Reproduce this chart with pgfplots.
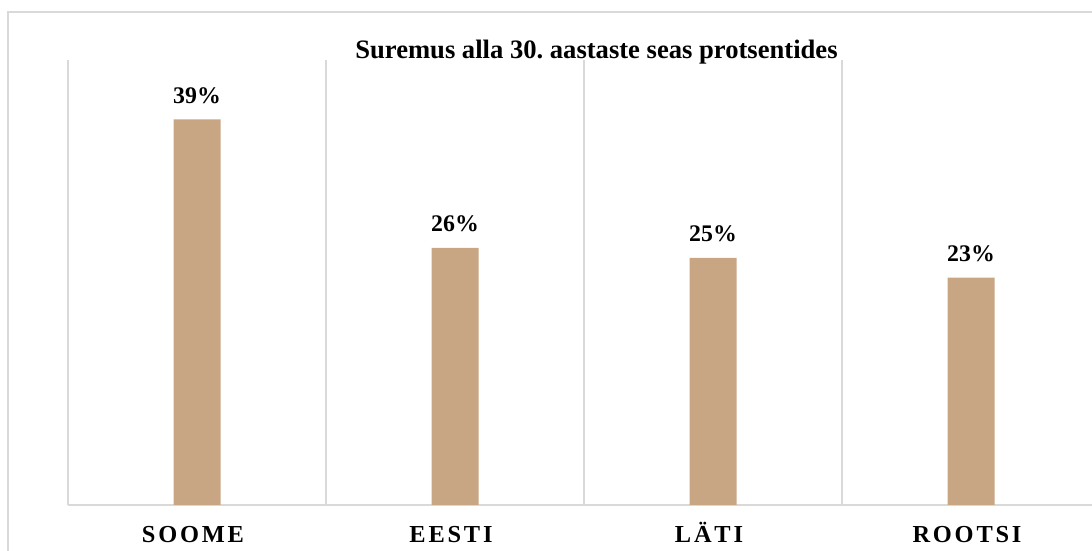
\documentclass[border=0pt]{standalone}
\usepackage{pgfplots}
\pgfplotsset{compat=1.18}
\usepackage{fontspec}
\setmainfont{Liberation Serif}
\frenchspacing
\definecolor{barc}{RGB}{200,166,132}
\definecolor{gridg}{RGB}{217,217,217}
\begin{document}
\begin{tikzpicture}
\clip (0pt,0pt) rectangle (546pt,275.5pt);
\draw[gridg, line width=0.75pt] (4pt,-10pt) -- (4pt,269.5pt) -- (600pt,269.5pt);
\begin{axis}[
  at={(34pt,23pt)}, anchor=south west,
  scale only axis, width=516pt, height=222.5pt,
  xmin=-0.5, xmax=3.5, ymin=0, ymax=45,
  clip=false,
  /pgf/number format/assume math mode=true,
  ybar, bar width=23.5pt,
  axis y line=none,
  axis x line*=bottom,
  x axis line style={-, gridg, line width=0.75pt},
  xtick={0,1,2,3},
  xticklabels={{S\kern1.4pt O\kern1.4pt O\kern1.4pt M\kern1.4pt E},{E\kern1.4pt E\kern1.4pt S\kern1.4pt T\kern1.4pt I},{L\kern1.4pt Ä\kern1.4pt T\kern1.4pt I},{R\kern1.4pt O\kern1.4pt O\kern1.4pt T\kern1.4pt S\kern1.4pt I}},
  minor xtick={-0.5,0.5,1.5,2.5,3.5},
  xminorgrids,
  minor grid style={gridg, line width=0.75pt},
  major tick length=0pt, minor tick length=0pt,
  ytick=\empty,
  xticklabel style={anchor=base, yshift=-18.7pt, xshift=-2pt, font=\fontsize{12.2}{14}\selectfont\bfseries},
  title={Suremus alla 30. aastaste seas protsentides},
  title style={at={(0.5121,0.9775)}, anchor=base, font=\fontsize{13.3}{16}\selectfont\bfseries},
  nodes near coords={\pgfmathprintnumber{\pgfplotspointmeta}\%},
  nodes near coords style={anchor=base, yshift=8pt, inner sep=0pt, font=\fontsize{11.9}{14}\selectfont\bfseries},
]
\addplot[fill=barc, draw=none] coordinates {(0,39) (1,26) (2,25) (3,23)};
\end{axis}
\end{tikzpicture}
\end{document}
